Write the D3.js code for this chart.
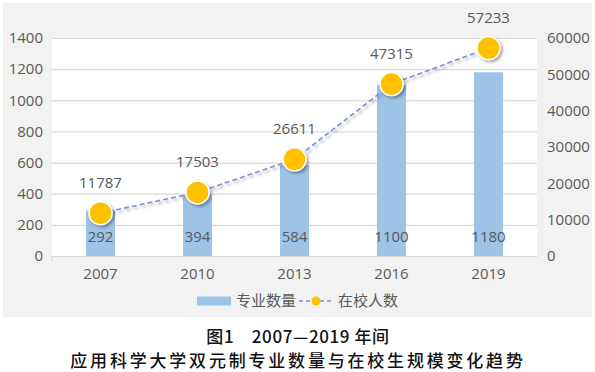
<html>
<head>
  <style type="text/css">
    body { margin: 0; background: #fff; }
    text { font-family: "Open Sans", "Noto Sans CJK SC", sans-serif; }
  </style>
</head>
<body>
  <div id="viz"></div>
  <script src="https://cdnjs.cloudflare.com/ajax/libs/d3/7.8.5/d3.min.js"></script>
  <script>
  // data
  const years = ['2007', '2010', '2013', '2016', '2019'];
  const majors = [292, 394, 584, 1100, 1180];
  const students = [11787, 17503, 26611, 47315, 57233];
  const leftTicks = [0, 200, 400, 600, 800, 1000, 1200, 1400];
  const rightTicks = [0, 10000, 20000, 30000, 40000, 50000, 60000];
  const seriesNames = ['专业数量', '在校人数'];
  const captionLines = ['图1　2007—2019 年间', '应用科学大学双元制专业数量与在校生规模变化趋势'];

  const W = 595, H = 372;
  const margin = { top: 38, right: 58, bottom: 116, left: 52 };
  const width = W - margin.left - margin.right,
        height = H - margin.top - margin.bottom;

  const labelColor = '#595959',
        gridColor = '#d9d9d9',
        barColor = '#9dc3e6',
        dotColor = '#ffc000',
        lineColor = '#7d8fdc';

  const svg = d3.select('#viz').append('svg')
    .attr('width', W)
    .attr('height', H);

  const defs = svg.append('defs');
  defs.append('filter').attr('id', 'shadow')
    .attr('x', '-50%').attr('y', '-50%').attr('width', '200%').attr('height', '200%')
    .append('feDropShadow')
      .attr('dx', 2).attr('dy', 2).attr('stdDeviation', 1.5)
      .attr('flood-color', '#000').attr('flood-opacity', 0.35);

  // grey chart background and white plot area
  svg.append('rect')
    .attr('x', 3).attr('y', 3)
    .attr('width', 589).attr('height', 314)
    .attr('fill', '#f2f2f2');

  const g = svg.append('g')
    .attr('transform', 'translate(' + margin.left + ',' + margin.top + ')');

  g.append('rect')
    .attr('width', width).attr('height', height)
    .attr('fill', '#fff');

  const x = d3.scaleBand()
    .domain(years)
    .range([0, width])
    .paddingInner(0.7)
    .paddingOuter(0.35);

  const yLeft = d3.scaleLinear().domain([0, 1400]).range([height, 0]);
  const yRight = d3.scaleLinear().domain([0, 60000]).range([height, 0]);
  const fmt = d3.format('d');

  // gridlines
  g.append('g')
    .call(d3.axisLeft(yLeft).tickValues(leftTicks).tickSize(-width).tickFormat(''))
    .call(a => a.select('.domain').remove())
    .call(a => a.selectAll('line').attr('stroke', gridColor).attr('stroke-width', 1.2));

  // left axis labels
  g.append('g')
    .call(d3.axisLeft(yLeft).tickValues(leftTicks).tickSize(0).tickPadding(9).tickFormat(fmt))
    .call(a => a.select('.domain').remove())
    .call(a => a.selectAll('text').attr('fill', labelColor).style('font-size', '15px'));

  // right axis labels
  g.append('g')
    .attr('transform', 'translate(' + width + ',0)')
    .call(d3.axisRight(yRight).tickValues(rightTicks).tickSize(0).tickPadding(10).tickFormat(fmt))
    .call(a => a.select('.domain').remove())
    .call(a => a.selectAll('text').attr('fill', labelColor).style('font-size', '15px'));

  // bottom axis
  g.append('g')
    .attr('transform', 'translate(0,' + height + ')')
    .call(d3.axisBottom(x).tickSize(0).tickPadding(12))
    .call(a => a.select('.domain').attr('stroke', gridColor).attr('stroke-width', 1.2))
    .call(a => a.selectAll('text').attr('fill', labelColor).style('font-size', '15px'));

  g.append('line')
    .attr('x1', 0).attr('x2', 0)
    .attr('y1', height).attr('y2', height + 5)
    .attr('stroke', gridColor).attr('stroke-width', 1.2);

  // bars
  g.selectAll('rect.bar').data(majors)
    .enter().append('rect')
      .attr('class', 'bar')
      .attr('fill', barColor)
      .attr('x', (d, i) => x(years[i]))
      .attr('width', x.bandwidth())
      .attr('y', d => yLeft(d))
      .attr('height', d => height - yLeft(d));

  g.selectAll('text.barLabel').data(majors)
    .enter().append('text')
      .attr('class', 'barLabel')
      .attr('x', (d, i) => x(years[i]) + x.bandwidth() / 2)
      .attr('y', height - 14)
      .attr('text-anchor', 'middle')
      .attr('fill', labelColor)
      .style('font-size', '15px')
      .text(d => d);

  // line + markers
  const line = d3.line()
    .x((d, i) => x(years[i]) + x.bandwidth() / 2)
    .y(d => yRight(d));

  g.append('path')
    .datum(students)
    .attr('d', line)
    .attr('fill', 'none')
    .attr('stroke', lineColor)
    .attr('stroke-width', 1.6)
    .attr('stroke-dasharray', '5,3')
    .attr('filter', 'url(#shadow)');

  g.selectAll('circle.dot').data(students)
    .enter().append('circle')
      .attr('class', 'dot')
      .attr('cx', (d, i) => x(years[i]) + x.bandwidth() / 2)
      .attr('cy', d => yRight(d))
      .attr('r', 11.5)
      .attr('fill', dotColor)
      .attr('stroke', '#fff')
      .attr('stroke-width', 1.5)
      .attr('filter', 'url(#shadow)');

  g.selectAll('text.dotLabel').data(students)
    .enter().append('text')
      .attr('class', 'dotLabel')
      .attr('x', (d, i) => x(years[i]) + x.bandwidth() / 2)
      .attr('y', d => yRight(d) - 25)
      .attr('text-anchor', 'middle')
      .attr('fill', labelColor)
      .style('font-size', '15px')
      .text(d => d);

  // legend
  const legend = svg.append('g').attr('transform', 'translate(0,301)');
  legend.append('rect')
    .attr('x', 197).attr('y', -4.5)
    .attr('width', 34).attr('height', 9)
    .attr('fill', barColor);
  legend.append('text')
    .attr('x', 236).attr('y', 0).attr('dy', '0.35em')
    .attr('fill', labelColor)
    .style('font-family', '"Noto Sans CJK SC", sans-serif')
    .style('font-size', '15px')
    .text(seriesNames[0]);
  legend.append('line')
    .attr('x1', 299).attr('x2', 333)
    .attr('y1', 0).attr('y2', 0)
    .attr('stroke', lineColor).attr('stroke-width', 1.6)
    .attr('stroke-dasharray', '4,3');
  legend.append('circle')
    .attr('cx', 316).attr('cy', 0).attr('r', 4.5)
    .attr('fill', dotColor);
  legend.append('text')
    .attr('x', 338).attr('y', 0).attr('dy', '0.35em')
    .attr('fill', labelColor)
    .style('font-family', '"Noto Sans CJK SC", sans-serif')
    .style('font-size', '15px')
    .text(seriesNames[1]);

  // caption
  svg.selectAll('text.caption').data(captionLines)
    .enter().append('text')
      .attr('class', 'caption')
      .attr('x', 298)
      .attr('y', (d, i) => 337 + i * 24)
      .attr('dy', '0.35em')
      .attr('text-anchor', 'middle')
      .attr('fill', '#111')
      .style('font-family', '"Noto Sans CJK SC", sans-serif')
      .style('font-weight', '500')
      .style('font-size', '17px')
      .style('letter-spacing', (d, i) => i === 1 ? '2.8px' : '0.6px')
      .text(d => d);
  </script>
</body>
</html>
